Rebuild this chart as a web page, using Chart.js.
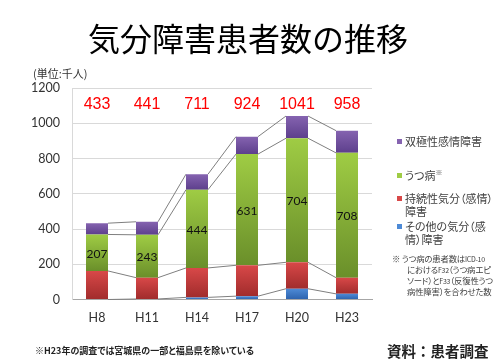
<!DOCTYPE html>
<html><head><meta charset="utf-8">
<script src="https://cdn.jsdelivr.net/npm/chart.js@4"></script>
<style>
html,body{margin:0;padding:0;background:#fff;}
#wrap{position:relative;width:500px;height:362px;overflow:hidden;font-family:"Noto Sans CJK JP","Noto Sans",sans-serif;}
#c{position:absolute;left:0;top:0;}
.t{position:absolute;white-space:nowrap;}
#title{left:0;width:496px;text-align:center;top:21px;font-size:32px;line-height:32px;color:#000;}
#unit{left:33px;top:67px;font-size:11px;line-height:13px;color:#333;}
#note{left:35px;top:345px;font-size:9px;line-height:12px;font-weight:bold;color:#222;font-feature-settings:"palt";}
#src{left:387px;top:342px;font-size:14.5px;line-height:18px;font-weight:bold;color:#222;}
#legend{position:absolute;left:396px;top:0;width:104px;}
.li{position:absolute;left:0;font-size:11px;line-height:13px;color:#404040;font-feature-settings:"palt";}
.sw{position:absolute;left:1px;width:5px;height:5px;}
.lt{position:absolute;left:9px;white-space:nowrap;}
#foot{position:absolute;left:392px;top:253px;font-size:8.4px;line-height:10px;color:#404040;font-feature-settings:"palt";letter-spacing:-0.2px;}
#foot div{white-space:nowrap;}
#foot .lat{font-size:7px;letter-spacing:-0.3px;}
sup{font-size:7px;vertical-align:top;line-height:7px;}
</style></head>
<body><div id="wrap">
<canvas id="c" width="500" height="362"></canvas>
<div class="t" id="title">気分障害患者数の推移</div>
<div class="t" id="unit">(単位:千人)</div>
<div id="legendBox"></div>
<div id="foot">
<div>※ うつ病の患者数は<span class="lat">ICD-10</span></div>
<div style="padding-left:15px">における<span class="lat">F32</span>（うつ病エピ</div>
<div style="padding-left:15px">ソード）と<span class="lat">F33</span>（反復性うつ</div>
<div style="padding-left:15px">病性障害）を合わせた数</div>
</div>
<div class="t" id="note">※H23年の調査では宮城県の一部と福島県を除いている</div>
<div class="t" id="src">資料：患者調査</div>
</div>
<script>
const categories = ["H8","H11","H14","H17","H20","H23"];
const otherMood = [0, 3, 12, 19, 61, 32];        // その他の気分（感情）障害
const persistent = [162, 121, 167, 175, 150, 92]; // 持続性気分（感情）障害
const depression = [207, 243, 444, 631, 704, 708]; // うつ病
const bipolar = [64, 74, 88, 99, 126, 126];     // 双極性感情障害
const totals = [433, 441, 711, 924, 1041, 958];
const yTicks = [0, 200, 400, 600, 800, 1000, 1200];

const seriesNames = ["その他の気分（感情）障害","持続性気分（感情）障害","うつ病","双極性感情障害"];
const seriesData = [otherMood, persistent, depression, bipolar];
const gradColors = [
  ["#4d8ad6","#2c62ad"],
  ["#d84848","#a12c2c"],
  ["#9fcc44","#6a8f2a"],
  ["#8563b0","#5d3f8c"]
];

function gradFor(ctx){
  const chart = ctx.chart;
  const ds = ctx.datasetIndex, i = ctx.dataIndex;
  const c = gradColors[ds];
  const ys = chart.scales && chart.scales.y;
  if(!chart.chartArea || !ys) return c[0];
  let base = 0;
  for(let k=0;k<ds;k++) base += seriesData[k][i];
  const top = base + seriesData[ds][i];
  const y0 = ys.getPixelForValue(top), y1 = ys.getPixelForValue(base);
  if(!isFinite(y0)||!isFinite(y1)||y0===y1) return c[0];
  const g = chart.ctx.createLinearGradient(0,y0,0,y1);
  g.addColorStop(0,c[0]); g.addColorStop(1,c[1]);
  return g;
}

const seriesLines = {
  id:'seriesLines',
  beforeDatasetsDraw(chart){
    const ctx = chart.ctx;
    ctx.save();
    ctx.strokeStyle = '#7f7f7f';
    ctx.lineWidth = 1;
    chart.data.datasets.forEach((d,di)=>{
      const meta = chart.getDatasetMeta(di);
      for(let i=0;i<meta.data.length-1;i++){
        const a = meta.data[i], b = meta.data[i+1];
        ctx.beginPath();
        ctx.moveTo(a.x + a.width/2, a.y);
        ctx.lineTo(b.x - b.width/2, b.y);
        ctx.stroke();
      }
    });
    ctx.restore();
  }
};

const labelsPlugin = {
  id:'labelsPlugin',
  afterDatasetsDraw(chart){
    const ctx = chart.ctx;
    const xs = chart.scales.x, ys = chart.scales.y;
    ctx.save();
    ctx.textAlign = 'center';
    ctx.textBaseline = 'middle';
    ctx.fillStyle = '#ff0000';
    ctx.font = '16px "Liberation Sans", Arial, sans-serif';
    totals.forEach((t,i)=>{
      ctx.fillText(String(t), xs.getPixelForValue(i), ys.getPixelForValue(1108));
    });
    const meta = chart.getDatasetMeta(2);
    ctx.fillStyle = '#111';
    ctx.font = '12px Lato, "Liberation Sans", sans-serif';
    meta.data.forEach((el,i)=>{
      ctx.fillText(String(depression[i]), el.x, (el.y + el.base)/2 + 1);
    });
    ctx.restore();
  }
};

const datasets = seriesData.map((arr,k)=>({
  label: seriesNames[k],
  data: arr,
  backgroundColor: gradFor,
  borderWidth: 0,
  categoryPercentage: 1,
  barPercentage: 0.44
}));

new Chart(document.getElementById('c'), {
  type:'bar',
  data:{labels:categories, datasets},
  options:{
    responsive:false,
    animation:false,
    devicePixelRatio:1,
    layout:{padding:{left:0,right:128,top:88,bottom:0}},
    plugins:{legend:{display:false},tooltip:{enabled:false}},
    scales:{
      x:{
        stacked:true,
        grid:{display:false, drawTicks:false},
        border:{display:true,color:'#a6a6a6',width:1},
        ticks:{color:'#333',font:{family:'Lato, "Liberation Sans", sans-serif',size:12.5},padding:11},
        afterFit(s){ s.height = 62.5; }
      },
      y:{
        stacked:true,
        min:0,max:1200,
        afterBuildTicks(s){ s.ticks = yTicks.map(v=>({value:v})); },
        grid:{color:'#d9d9d9',drawTicks:false},
        border:{display:true,color:'#d9d9d9',width:1},
        ticks:{color:'#333',font:{family:'Lato, "Liberation Sans", sans-serif',size:12.5},padding:12,
          callback:(v)=>String(v)},
        afterFit(s){ s.width = 72; }
      }
    }
  },
  plugins:[seriesLines, labelsPlugin]
});

const legendItems = [
  {k:3, top:135, html:'双極性感情障害'},
  {k:2, top:169, html:'うつ病<sup>※</sup>'},
  {k:1, top:192, html:'持続性気分（感情）<br>障害'},
  {k:0, top:220, html:'その他の気分（感<br>情）障害'}
];
const lb = document.getElementById('legendBox');
lb.id='legend';
legendItems.forEach(it=>{
  const d = document.createElement('div');
  d.className='li'; d.style.top = it.top+'px';
  const sw = document.createElement('div');
  sw.className='sw'; sw.style.top='4px'; sw.style.background = gradColors[it.k][0];
  const t = document.createElement('div');
  t.className='lt'; t.innerHTML = it.html;
  d.appendChild(sw); d.appendChild(t);
  lb.appendChild(d);
});
</script>
</body></html>
